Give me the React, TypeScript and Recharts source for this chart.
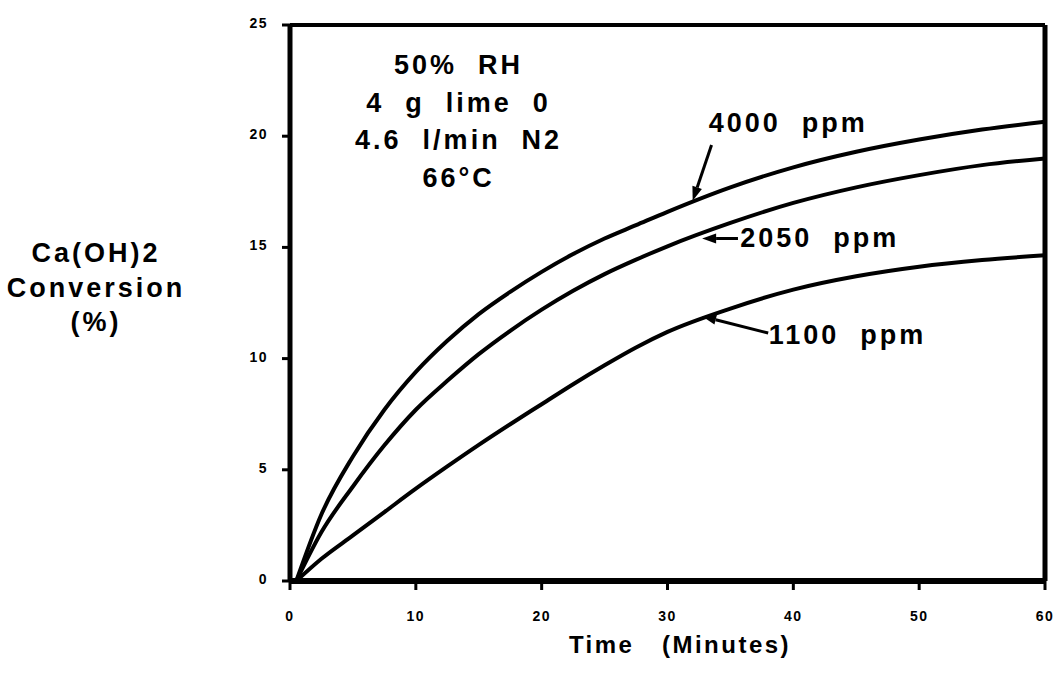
import React from "react"
import {
  LineChart,
  Line,
  XAxis,
  YAxis,
  ReferenceLine,
  ReferenceDot,
} from "recharts"

// time in minutes
const times = [0.5, 2.5, 5, 7.5, 10, 12.5, 15, 17.5, 20, 22.5, 25, 27.5, 30, 35, 40, 45, 50, 55, 60]

// Ca(OH)2 conversion (%) per SO2 concentration
const ppm4000 = [0, 3.0, 5.6, 7.7, 9.4, 10.8, 12.0, 13.0, 13.9, 14.7, 15.4, 16.0, 16.6, 17.7, 18.6, 19.3, 19.85, 20.3, 20.65]
const ppm2050 = [0, 2.2, 4.25, 6.1, 7.7, 9.0, 10.2, 11.25, 12.2, 13.05, 13.8, 14.45, 15.05, 16.1, 17.0, 17.7, 18.25, 18.7, 19.0]
const ppm1100 = [0, 1.0, 2.05, 3.1, 4.15, 5.15, 6.12, 7.05, 7.95, 8.85, 9.7, 10.5, 11.2, 12.25, 13.1, 13.7, 14.13, 14.43, 14.65]

const xTicks = [0, 10, 20, 30, 40, 50, 60]
const yTicks = [0, 5, 10, 15, 20, 25]

const conditions = ["50%  RH", "4  g  lime  0", "4.6  l/min  N2", "66°C"]

// curve labels: [text, t, value] and arrows: [fromT, fromV, toT, toV]
const curveLabels: Array<[string, number, number]> = [
  ["4000  ppm", 39.6, 20.6],
  ["2050  ppm", 42.1, 15.42],
  ["1100  ppm", 44.3, 11.06],
]
const arrows: Array<[number, number, number, number]> = [
  [33.5, 19.6, 32.0, 17.1],
  [35.6, 15.4, 32.75, 15.4],
  [38.0, 11.15, 32.75, 11.9],
]

const data = times.map((t, i) => ({
  t,
  a: ppm4000[i],
  b: ppm2050[i],
  c: ppm1100[i],
}))

const font = "'Liberation Sans', Arial, Helvetica, sans-serif"

const renderXTick = (props: any) => {
  const { x, y, payload } = props
  return (
    <text x={x} y={y + 6} textAnchor="middle" dominantBaseline="central" fontFamily={font} fontWeight={700} fontSize={14} letterSpacing={1.5} fill="#000">
      {payload.value}
    </text>
  )
}

const renderYTick = (props: any) => {
  const { x, y, payload } = props
  return (
    <text x={x} y={y - 2} textAnchor="end" dominantBaseline="central" fontFamily={font} fontWeight={700} fontSize={14} letterSpacing={1.5} fill="#000">
      {payload.value}
    </text>
  )
}

function ArrowShape(props: any) {
  const { x1, y1, x2, y2 } = props
  if ([x1, y1, x2, y2].some((v) => v === undefined || isNaN(v))) return null
  const ang = Math.atan2(y2 - y1, x2 - x1)
  const len = 14
  const w = 5
  const bx = x2 - len * Math.cos(ang)
  const by = y2 - len * Math.sin(ang)
  const px = -Math.sin(ang) * w
  const py = Math.cos(ang) * w
  return (
    <g>
      <line x1={x1} y1={y1} x2={bx} y2={by} stroke="#000" strokeWidth={3} />
      <polygon points={`${x2},${y2} ${bx + px},${by + py} ${bx - px},${by - py}`} fill="#000" />
    </g>
  )
}

function textShape(lines: string[], spacing: number) {
  return (props: any) => {
    const { cx, cy } = props
    if (cx === undefined || cy === undefined) return null
    return (
      <g>
        {lines.map((s, i) => (
          <text
            key={i}
            x={cx}
            y={cy + i * spacing}
            textAnchor="middle"
            dominantBaseline="central"
            fontFamily={font}
            fontWeight={700}
            fontSize={27}
            letterSpacing={3}
            style={{ whiteSpace: "pre" }}
            fill="#000"
          >
            {s}
          </text>
        ))}
      </g>
    )
  }
}

export default function App() {
  return (
    <div style={{ position: "absolute", left: 0, top: 0, width: 1060, height: 676, background: "#fff" }}>
      <LineChart
        width={1060}
        height={676}
        data={data}
        margin={{ top: 25, right: 15, left: 230, bottom: 35 }}
      >
        <XAxis
          dataKey="t"
          type="number"
          domain={[0, 60]}
          ticks={xTicks}
          tick={renderXTick}
          tickSize={9}
          tickMargin={20}
          axisLine={{ stroke: "#000", strokeWidth: 6 }}
          tickLine={{ stroke: "#000", strokeWidth: 3 }}
          height={60}
        />
        <YAxis
          type="number"
          domain={[0, 25]}
          ticks={yTicks}
          tick={renderYTick}
          tickSize={8}
          tickMargin={14}
          axisLine={{ stroke: "#000", strokeWidth: 5 }}
          tickLine={{ stroke: "#000", strokeWidth: 3 }}
          width={60}
        />
        <ReferenceLine y={25} stroke="#000" strokeWidth={4} />
        <ReferenceLine x={60} stroke="#000" strokeWidth={5} />
        <Line type="monotone" dataKey="a" stroke="#000" strokeWidth={4} dot={false} isAnimationActive={false} />
        <Line type="monotone" dataKey="b" stroke="#000" strokeWidth={4} dot={false} isAnimationActive={false} />
        <Line type="monotone" dataKey="c" stroke="#000" strokeWidth={4} dot={false} isAnimationActive={false} />
        {arrows.map(([fx, fy, tx, ty], i) => (
          <ReferenceLine
            key={`arrow-${i}`}
            segment={[
              { x: fx, y: fy },
              { x: tx, y: ty },
            ]}
            shape={ArrowShape}
          />
        ))}
        {curveLabels.map(([s, x, y], i) => (
          <ReferenceDot key={`lab-${i}`} x={x} y={y} r={0} shape={textShape([s], 0)} />
        ))}
        <ReferenceDot x={13.4} y={23.2} r={0} shape={textShape(conditions, 37.6)} />
      </LineChart>
      <div
        style={{
          position: "absolute",
          left: 0,
          top: 236,
          width: 192,
          textAlign: "center",
          fontFamily: font,
          fontWeight: 700,
          fontSize: 27,
          lineHeight: "34.5px",
          letterSpacing: 3,
        }}
      >
        Ca(OH)2
        <br />
        Conversion
        <br />
        (%)
      </div>
      <div
        style={{
          position: "absolute",
          left: 480,
          top: 631,
          width: 400,
          textAlign: "center",
          fontFamily: font,
          fontWeight: 700,
          fontSize: 24,
          letterSpacing: 2.5,
          whiteSpace: "pre",
        }}
      >
        {"Time   (Minutes)"}
      </div>
    </div>
  )
}
